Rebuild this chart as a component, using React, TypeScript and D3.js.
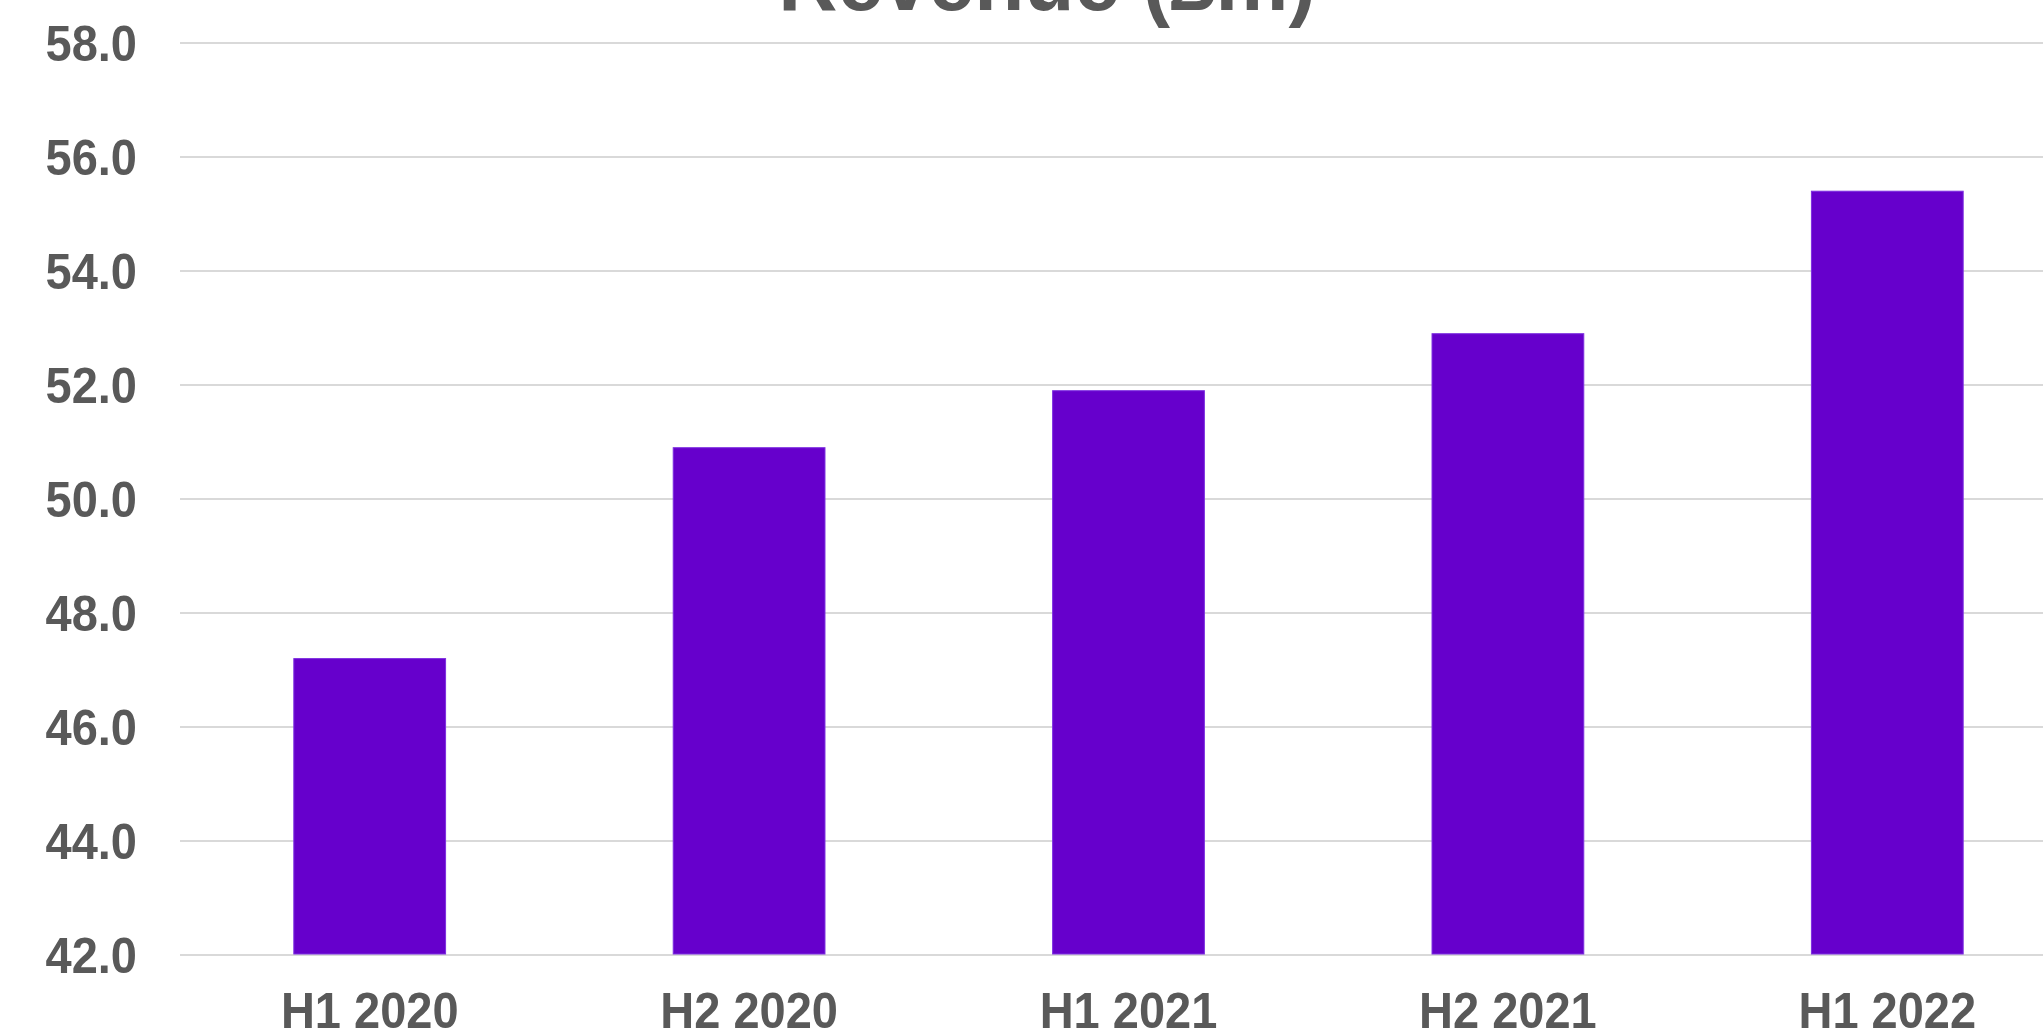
import React from "react";
import * as d3 from "d3";

// Half-year revenue, £m
const periods = ["H1 2020", "H2 2020", "H1 2021", "H2 2021", "H1 2022"];
const revenue = [47.2, 50.9, 51.9, 52.9, 55.4];
const yTicks = [42, 44, 46, 48, 50, 52, 54, 56, 58];
const title = "Revenue (£m)";

const W = 2043;
const H = 1030;
const FONT = "'Liberation Sans', Arial, sans-serif";
const TEXT = "#595959";
const GRID = "#d9d9d9";
const BAR = "#6600cc";
const STRETCH = 1.05;

export default function App() {
  const x = d3
    .scaleBand<string>()
    .domain(periods)
    .range([180, 2077])
    .paddingInner(0.6)
    .paddingOuter(0.3);
  const y = d3.scaleLinear().domain([42, 58]).range([955, 43]);
  const fmt = d3.format(".1f");

  return (
    <div style={{ position: "fixed", left: 0, top: 0, width: W, height: H, background: "#fff" }}>
      <svg width={W} height={H} style={{ display: "block" }} fontFamily={FONT}>
        <rect width={W} height={H} fill="#fff" />
        <text
          transform={`translate(1047,10) scale(1,${STRETCH})`}
          textAnchor="middle"
          fontSize={82}
          fontWeight="bold"
          fill={TEXT}
        >
          {title}
        </text>
        {yTicks.map((t) => (
          <g key={t}>
            <line x1={180} x2={W} y1={y(t)} y2={y(t)} stroke={GRID} strokeWidth={2} />
            <text
              transform={`translate(137,${y(t)}) scale(1,${STRETCH})`}
              dy="0.36em"
              textAnchor="end"
              fontSize={47}
              fontWeight="bold"
              fill={TEXT}
            >
              {fmt(t)}
            </text>
          </g>
        ))}
        {periods.map((p, i) => (
          <rect
            key={p}
            x={x(p)}
            y={y(revenue[i])}
            width={x.bandwidth()}
            height={y(42) - y(revenue[i]) - 1}
            fill={BAR}
            stroke="#7d2ee0"
            strokeWidth={1}
          />
        ))}
        {periods.map((p) => (
          <text
            key={p}
            transform={`translate(${(x(p) as number) + x.bandwidth() / 2},1028) scale(1,${STRETCH})`}
            textAnchor="middle"
            fontSize={47}
            fontWeight="bold"
            fill={TEXT}
          >
            {p}
          </text>
        ))}
      </svg>
    </div>
  );
}
